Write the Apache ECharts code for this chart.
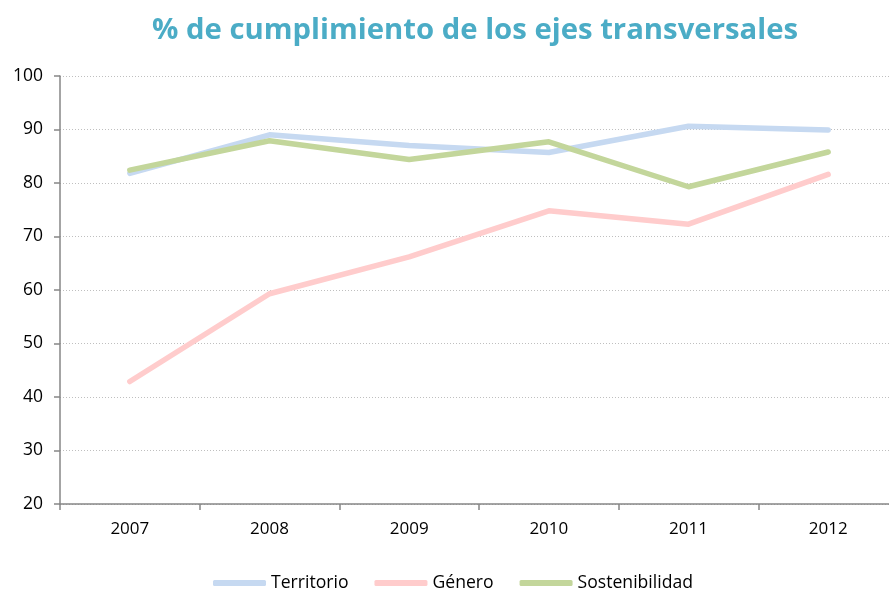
<!DOCTYPE html>
<html><head><meta charset="utf-8">
<script src="https://cdn.jsdelivr.net/npm/echarts@6/dist/echarts.min.js"></script>
<style>html,body{margin:0;padding:0;background:#fff}#c{width:889px;height:592px}</style>
</head><body><div id="c"></div>
<script>
const categories = ['2007','2008','2009','2010','2011','2012'];
const territorio = [81.8, 89.0, 87.0, 85.7, 90.6, 89.9];
const genero = [42.9, 59.3, 66.2, 74.8, 72.3, 81.6];
const sostenibilidad = [82.4, 87.9, 84.4, 87.7, 79.3, 85.8];
const yTicks = {min: 20, max: 100, interval: 10};

const font = 'Open Sans';
const chart = echarts.init(document.getElementById('c'));
const mk = (name, data, color) => ({
  name, type: 'line', data, symbol: 'none', smooth: false,
  lineStyle: {width: 5.5, color, cap: 'round', join: 'round'},
  itemStyle: {color}
});
chart.setOption({
  animation: false,
  title: {text: '% de cumplimiento de los ejes transversales', left: 147, top: 11,
    textStyle: {fontFamily: font, fontWeight: 'bold', fontSize: 29.3, color: '#4BACC6'}},
  legend: {top: 569, left: 208, itemWidth: 53, itemHeight: 6, itemGap: 26, icon: 'roundRect',
    textStyle: {fontFamily: font, fontSize: 17.6, color: '#000'},
    data: ['Territorio','Género','Sostenibilidad']},
  grid: {left: 60, width: 838, top: 76, bottom: 88, containLabel: false, outerBoundsMode: 'none'},
  xAxis: {type: 'category', data: categories, boundaryGap: true,
    axisLine: {lineStyle: {color: '#868686', width: 1.5}},
    axisTick: {show: true, length: 6, lineStyle: {color: '#868686', width: 1.5}},
    axisLabel: {fontFamily: font, fontSize: 17, color: '#000', margin: 17}},
  yAxis: {type: 'value', min: yTicks.min, max: yTicks.max, interval: yTicks.interval,
    axisLine: {show: true, lineStyle: {color: '#868686', width: 1.5}},
    axisTick: {show: true, length: 6, lineStyle: {color: '#868686', width: 1.5}},
    axisLabel: {fontFamily: font, fontSize: 17.5, color: '#000', margin: 17},
    splitLine: {lineStyle: {color: '#BFBFBF', type: [1, 2], width: 1}}},
  series: [
    mk('Territorio', territorio, '#C6D9F1'),
    mk('Género', genero, '#FFCCCC'),
    mk('Sostenibilidad', sostenibilidad, '#C3D69B')
  ]
});
</script></body></html>
